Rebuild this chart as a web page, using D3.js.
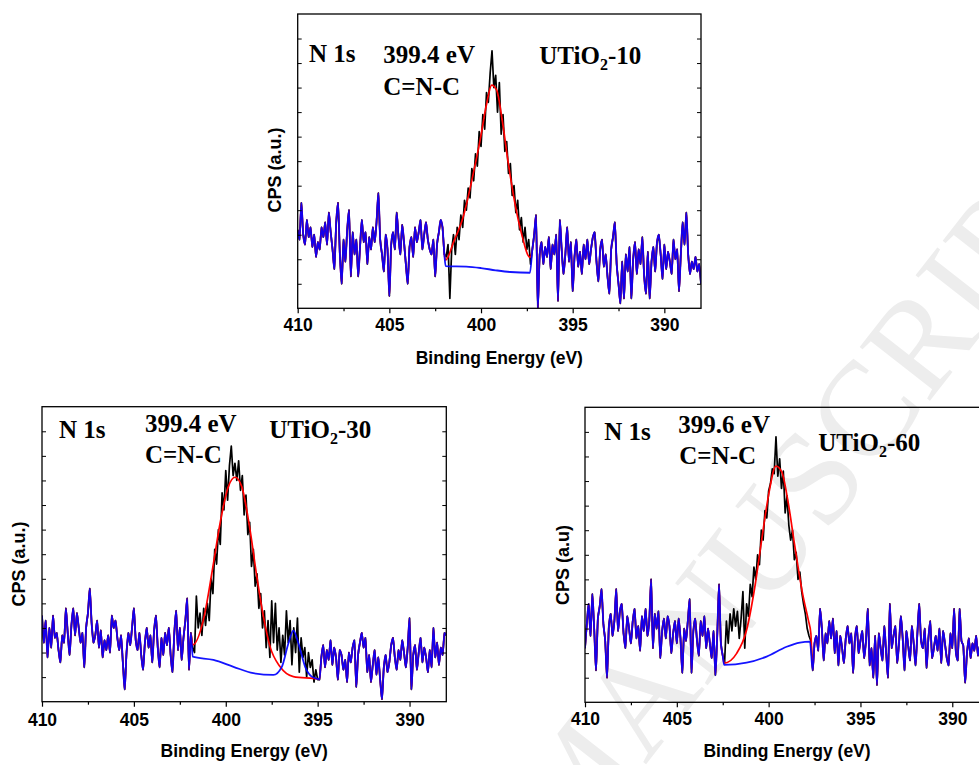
<!DOCTYPE html>
<html><head><meta charset="utf-8">
<script src="https://cdn.jsdelivr.net/npm/d3@7/dist/d3.min.js"></script>
<style>body{margin:0;background:#fff;}svg{display:block;}</style>
</head><body>
<svg id="chart" width="979" height="765"></svg>
<script>
// ---------- DATA ----------
const STEP = 0.1;                       // eV sampling step of the spectra
const xDomain = [410, 388];
const yDomain = [0, 120];
const xMajorTicks = [410, 405, 400, 395, 390];
const xMinorTicks = [407.5, 402.5, 397.5, 392.5];
const yTicks = [10, 20, 30, 40, 50, 60, 70, 80, 90, 100, 110];

const sampleSuffix = ["-10", "-30", "-60"];
const peakLabels = ["399.4 eV", "399.4 eV", "399.6 eV"];
const bondLabel = "C=N-C";
const coreLabel = "N 1s";
const yTitles = ["CPS (a.u.)", "CPS (a.u.)", "CPS (a.u)"];
const xTitle = "Binding Energy (eV)";

// Panel 1 : UTiO2-10
const p1LeftStart = 410.0;
const p1Left = [32,28,43,30,26,36,29,33,25,30, 21,27,24,33,29,35,26,39,31,24, 16,35,43,22,10,28,19,32,40,13, 31,22,28,13,25,36,27,31,18,29, 24,33,27,35,47,28,22,15,30,24, 5,26,31,24,39,29,22,34,27,18, 10,25,29,21,33,27,31,36,24,30, 35,28,24,22,28,13,26,31,36,33, 22];
const p1PeakStart = 401.9;
const p1Peak = [21,26,4,24,30,22,33,28,38,33, 44,40,49,45,57,52,63,58,72,66, 79,73,88,84,96,105,90,95,80,92, 71,79,64,68,55,59,46,50,39,44, 32,37,27,33,24,28,18];
const p1RightStart = 397.2;
const p1Right = [24,30,38,0,22,27,18,25,21,29, 16,26,22,30,3,36,24,14,22,33, 19,27,7,21,28,17,23,14,26,20, 28,18,24,29,31,19,11,24,28,17, 22,13,6,24,29,35,18,10,2,19, 4,22,15,25,4,20,27,14,24,18, 29,13,6,23,4,19,25,15,27,30, 22,12,26,16,23,19,14,28,20,24, 7,22,35,26,39,22,14,19,16,21, 15,18,10];
const p1Fit = [[401.93,19.7],[401.5,27],[400.97,37.3],[400.42,55],[400.05,68.6],[399.69,83.5],[399.42,91],[399.14,88.9],[398.87,78],[398.51,59.1],[398.15,42.8],[397.79,30.5],[397.33,20.8]];
const p1Base = [[401.93,17.2],[400.8,17.0],[400.0,16.4],[399.2,15.5],[398.4,14.8],[397.33,14.5]];

// Panel 2 : UTiO2-30
const p2LeftStart = 410.0;
const p2Left = [35,24,33,18,30,22,35,26,28,21, 16,27,24,38,28,19,31,38,27,36, 30,24,28,14,30,36,46,32,24,27, 33,22,29,18,25,21,27,20,35,30, 33,26,21,27,16,5,20,28,23,30, 38,25,21,28,19,13,24,30,22,27, 16,29,35,22,14,26,19,28,23,30, 19,12,28,37,21,30,17,26,33,42, 13,28];
const p2PeakStart = 401.8;
const p2Peak = [22,20,43,30,36,27,38,31,40,33, 50,44,62,56,70,64,85,78,94,82, 96,104,92,97,90,98,86,92,76,84, 68,73,55,62,47,52,38,44,30,37, 22,33,18,41,24,40,21,30,16,27, 19,37,24,33,15,30,20,34,12,26, 18,22,10,20,14,17,8,13,9];
const p2RightStart = 394.9;
const p2Right = [9,18,23,14,21,17,25,15,22,18, 9,21,19,13,17,8,20,16,22,25, 6,19,24,28,22,26,12,19,8,15, 21,11,18,9,1,14,19,12,16,23, 26,18,13,21,17,25,20,14,22,34, 5,19,23,13,20,26,16,22,18,12, 21,14,30,18,24,15,22,19,28,27];
const p2Fit = [[401.8,23.1],[401.22,33.2],[400.67,56.3],[400.31,72.6],[399.86,87.5],[399.49,91.3],[399.13,87.5],[398.68,69.9],[398.31,50.9],[397.95,34.6],[397.59,22.4],[397.04,14.2],[396.32,10.2],[394.96,9.2]];
const p2Base = [[401.8,18.3],[400.67,17.0],[399.58,14.2],[398.5,11.6],[397.41,10.9],[396.95,14.2],[396.59,23.8],[396.32,28.9],[396.05,23.8],[395.68,14.2],[395.32,10.2],[394.96,9.2]];

// Panel 3 : UTiO2-60
const p3LeftStart = 410.0;
const p3Left = [22,32,40,27,44,30,13,34,39,46, 32,25,10,31,36,27,33,46,29,37, 40,28,22,35,30,24,33,38,26,31, 21,35,29,38,27,33,50,22,36,30, 37,18,29,34,26,35,31,20,28,33, 24,34,26,12,30,25,33,42,12,29, 34,25,19,33,27,35,22,30,24,18, 29,11,27,48,24,19];
const p3PeakStart = 402.4;
const p3Peak = [16,33,24,36,29,38,31,37,26,34, 45,22,40,35,48,43,55,50,60,56, 70,66,78,75,86,89,95,93,108,92, 99,87,94,77,84,72,66,70,58,61, 50,53,45,40,36,30,27,25];
const p3RightStart = 397.6;
const p3Right = [13,24,27,21,38,30,17,28,24,33, 26,34,20,29,15,27,22,16,26,31, 24,28,12,26,31,20,25,29,18,25, 38,15,22,10,27,7,28,22,17,31, 20,10,40,22,27,31,16,24,35,26, 13,29,23,17,31,24,15,28,40,25, 22,30,14,26,33,18,22,27,21,30, 16,29,24,18,15,28,22,38,20,17, 38,25,23,8,20,26,18,24,21,27, 19,23,17,25,20,22,22];
const p3Fit = [[402.42,15.9],[401.74,19.9],[401.2,29.4],[400.75,47],[400.38,66],[400.02,83.6],[399.6,96.1],[399.29,93.8],[398.93,81],[398.57,63.3],[398.12,43],[397.84,33.5],[397.7,28]];
const p3Base = [[402.42,15.2],[401.2,16.1],[400.11,18.6],[399.02,22.6],[398.3,24.3],[397.75,24.7]];

// ---------- LAYOUT ----------
const layout = [
  {left:297.7, top:14, width:403.3, height:294.3, yTitleX:280.5, yTitleY:170, tickBase:331.5, titleBase:363.5,
   n1s:[309,61.7], eV:[383.3,63.3], cnc:[383.3,95], name:[539.3,64]},
  {left:42, top:406.7, width:404.3, height:295, yTitleX:24.5, yTitleY:564, tickBase:726, titleBase:757,
   n1s:[59,438.3], eV:[145,431.7], cnc:[145,463.3], name:[269.3,438.3]},
  {left:585, top:407.3, width:404, height:295, yTitleX:568.5, yTitleY:565, tickBase:725, titleBase:757,
   n1s:[604.3,440], eV:[678.3,432.7], cnc:[679.3,464], name:[818.3,450.7]}
];
const data = [
  {ls:p1LeftStart, l:p1Left, ps:p1PeakStart, p:p1Peak, rs:p1RightStart, r:p1Right, fit:p1Fit, base:p1Base},
  {ls:p2LeftStart, l:p2Left, ps:p2PeakStart, p:p2Peak, rs:p2RightStart, r:p2Right, fit:p2Fit, base:p2Base},
  {ls:p3LeftStart, l:p3Left, ps:p3PeakStart, p:p3Peak, rs:p3RightStart, r:p3Right, fit:p3Fit, base:p3Base}
];

const SANS = "'Liberation Sans', Arial, sans-serif";
const SERIF = "'Liberation Serif', 'Times New Roman', serif";
const svg = d3.select("#chart");

// watermark (clipped by the page edge, as in the reference)
svg.append("text")
  .attr("transform", "translate(1107,174) rotate(-52)")
  .attr("text-anchor", "end")
  .attr("font-family", SERIF).attr("font-size", 135)
  .attr("fill", "#ededed")
  .text("ACCEPTED MANUSCRIPT");

function seg(start, vals){ return vals.map((v,i)=>[+(start - i*STEP).toFixed(3), v]); }

layout.forEach((L, i) => {
  const D = data[i];
  const g = svg.append("g");
  const x = d3.scaleLinear().domain(xDomain).range([L.left, L.left + L.width]);
  const y = d3.scaleLinear().domain(yDomain).range([L.top + L.height, L.top]);
  const clipId = "clip" + i;
  g.append("clipPath").attr("id", clipId).append("rect")
    .attr("x", L.left).attr("y", L.top).attr("width", L.width).attr("height", L.height);

  const left = seg(D.ls, D.l), right = seg(D.rs, D.r);
  const raw = left.concat(seg(D.ps, D.p), right);
  const env = left.concat(D.fit, right);
  const bg = left.concat(D.base, right);

  const lineLin = d3.line().x(d=>x(d[0])).y(d=>y(d[1]));
  const lineSm = d3.line().x(d=>x(d[0])).y(d=>y(d[1])).curve(d3.curveMonotoneX);
  const plot = g.append("g").attr("clip-path", `url(#${clipId})`);
  plot.append("path").datum(raw).attr("d", lineLin).attr("fill","none").attr("stroke","#000").attr("stroke-width",1.7).attr("stroke-linejoin","round");
  plot.append("path").datum(env).attr("d", lineSm).attr("fill","none").attr("stroke","#ff0000").attr("stroke-width",1.7).attr("stroke-linejoin","round");
  plot.append("path").datum(bg).attr("d", lineSm).attr("fill","none").attr("stroke","#0000ff").attr("stroke-opacity",0.92).attr("stroke-width",1.8).attr("stroke-linejoin","round");

  // frame
  g.append("rect").attr("x", L.left).attr("y", L.top).attr("width", L.width).attr("height", L.height)
    .attr("fill","none").attr("stroke","#000").attr("stroke-width",1.3);

  const axisY = L.top + L.height;
  const fs = 17.5;
  const pad = L.tickBase - axisY - 5 - 0.71*fs;
  const ax = g.append("g").attr("transform", `translate(0,${axisY})`)
    .call(d3.axisBottom(x).tickValues(xMajorTicks).tickSize(5).tickPadding(pad).tickFormat(d3.format("d")));
  ax.select(".domain").remove();
  ax.selectAll("line").attr("stroke-width",1.2);
  ax.selectAll("text").attr("font-family", SANS).attr("font-weight","bold").attr("font-size", fs).attr("fill","#000");
  const axm = g.append("g").attr("transform", `translate(0,${axisY})`)
    .call(d3.axisBottom(x).tickValues(xMinorTicks).tickSize(3).tickFormat(""));
  axm.select(".domain").remove();
  axm.selectAll("line").attr("stroke-width",1.2);

  const al = g.append("g").attr("transform", `translate(${L.left},0)`)
    .call(d3.axisLeft(y).tickValues(yTicks).tickSize(-4).tickFormat(""));
  al.select(".domain").remove();
  const ar = g.append("g").attr("transform", `translate(${L.left + L.width},0)`)
    .call(d3.axisRight(y).tickValues(yTicks).tickSize(-4).tickFormat(""));
  ar.select(".domain").remove();

  // axis titles
  g.append("text").attr("x", L.left + L.width/2).attr("y", L.titleBase)
    .attr("text-anchor","middle").attr("font-family", SANS).attr("font-weight","bold").attr("font-size", 17.5)
    .text(xTitle);
  g.append("text").attr("transform", `translate(${L.yTitleX},${L.yTitleY}) rotate(-90)`)
    .attr("text-anchor","middle").attr("font-family", SANS).attr("font-weight","bold").attr("font-size", 18)
    .text(yTitles[i]);

  // annotations
  const ann = (pos, txt) => g.append("text").attr("x", pos[0]).attr("y", pos[1])
    .attr("font-family", SERIF).attr("font-weight","bold").attr("font-size", 25).attr("fill","#000").text(txt);
  ann(L.n1s, coreLabel);
  ann(L.eV, peakLabels[i]);
  ann(L.cnc, bondLabel);
  const nm = g.append("text").attr("x", L.name[0]).attr("y", L.name[1])
    .attr("font-family", SERIF).attr("font-weight","bold").attr("font-size", 25).attr("fill","#000");
  nm.append("tspan").text("UTiO");
  nm.append("tspan").attr("font-size", 16).attr("dy", 6).text("2");
  nm.append("tspan").attr("dy", -6).text(sampleSuffix[i]);
});
</script>
</body></html>
